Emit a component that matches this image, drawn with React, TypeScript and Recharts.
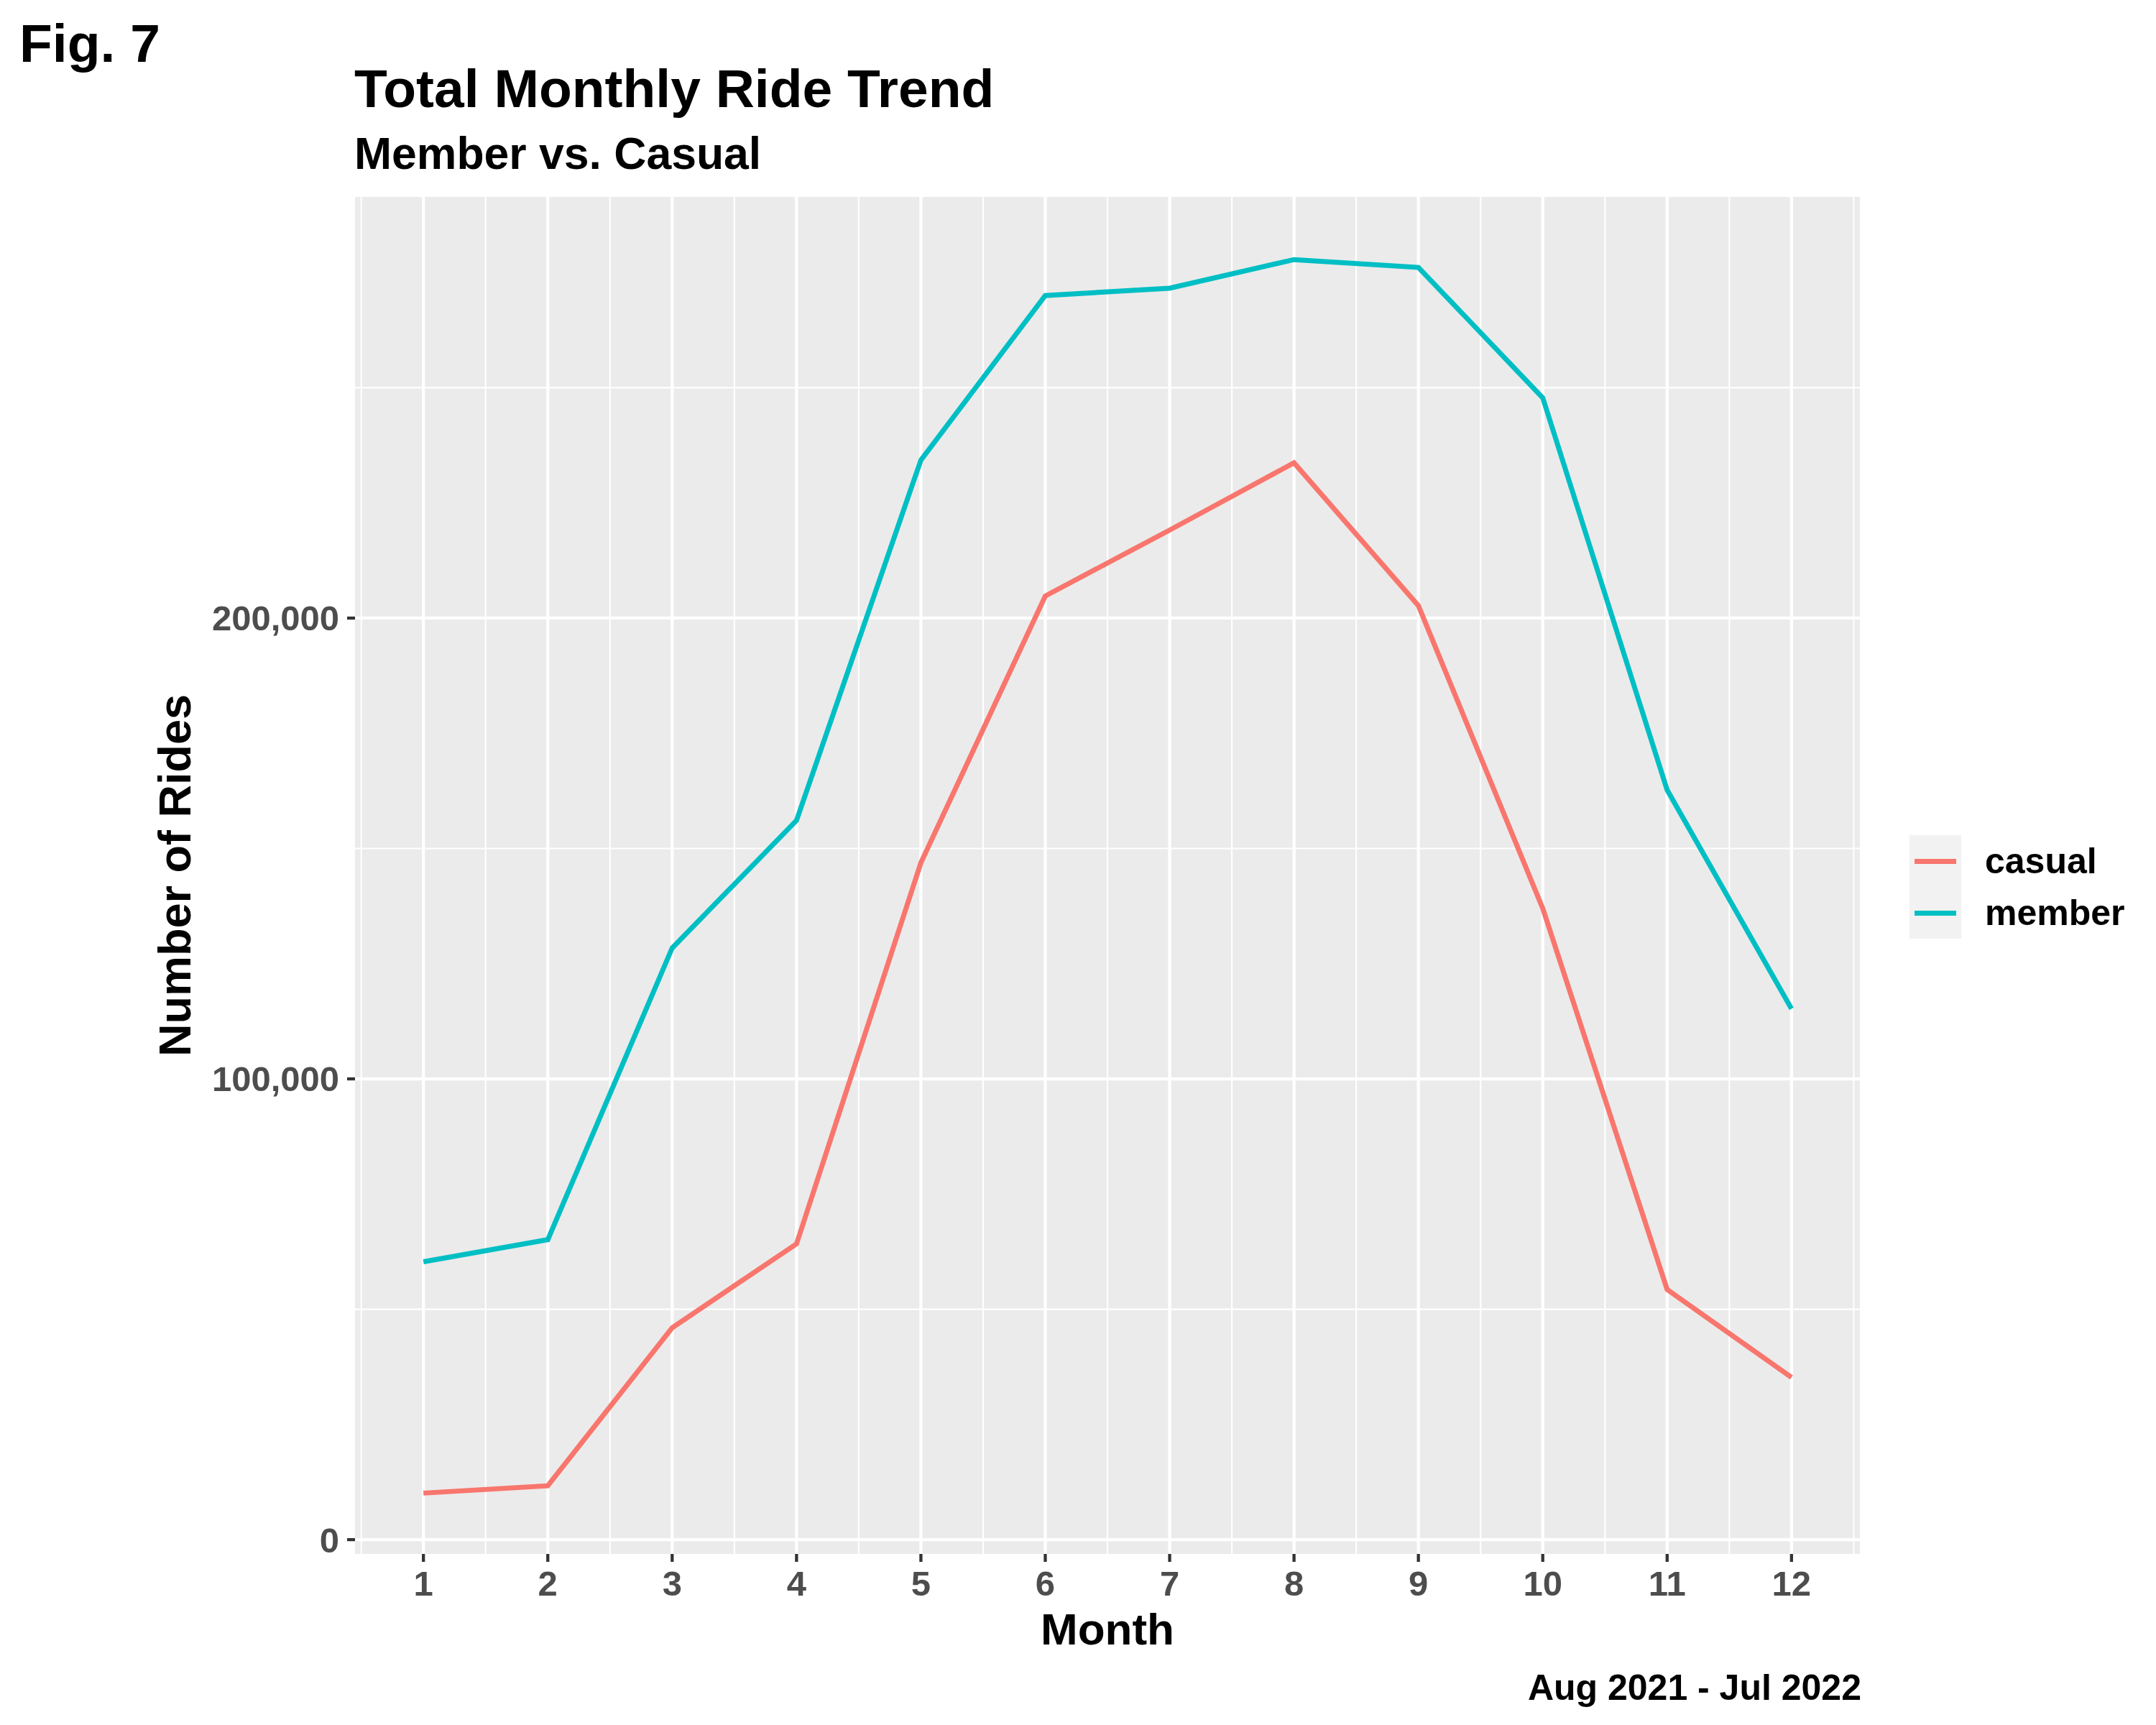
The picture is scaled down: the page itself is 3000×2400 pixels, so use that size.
import React from 'react';
import { LineChart, Line, XAxis, YAxis, CartesianGrid, Legend } from 'recharts';

const months = [1, 2, 3, 4, 5, 6, 7, 8, 9, 10, 11, 12];
const casualRides = [10100, 11700, 46000, 64200, 146900, 204800, 219100, 233700, 202700, 137000, 54300, 35200];
const memberRides = [60300, 65100, 128400, 156100, 234300, 270000, 271600, 277800, 276100, 247800, 162700, 115200];

const yTicks = [0, 100000, 200000];
const yMinor = [50000, 150000, 250000];
const xMinor = [0.5, 1.5, 2.5, 3.5, 4.5, 5.5, 6.5, 7.5, 8.5, 9.5, 10.5, 11.5, 12.5];

const FONT = '"Liberation Sans", Arial, Helvetica, sans-serif';

const data = months.map((m, i) => ({ month: m, casual: casualRides[i], member: memberRides[i] }));

const fmt = (v: number) => v.toLocaleString('en-US');

function LegendBox(props: any) {
  const items = props.payload || [];
  return (
    <div style={{ display: 'flex', fontFamily: FONT }}>
      <div style={{ background: '#F2F2F2', width: 72 }}>
        {items.map((it: any) => (
          <div key={it.value} style={{ height: 72, position: 'relative' }}>
            <div style={{ position: 'absolute', left: 7, right: 7, top: 33, height: 7, background: it.color }} />
          </div>
        ))}
      </div>
      <div style={{ marginLeft: 33 }}>
        {items.map((it: any) => (
          <div key={it.value} style={{ height: 72, lineHeight: '72px', fontSize: 50, fontWeight: 'bold', color: '#000' }}>
            {it.value}
          </div>
        ))}
      </div>
    </div>
  );
}

export default function App() {
  const tickStyle = { fill: '#4D4D4D', fontSize: 49, fontWeight: 'bold', fontFamily: FONT };
  return (
    <div style={{ position: 'absolute', left: 0, top: 0, width: 3000, height: 2400, background: '#fff' }}>
      <LineChart width={3000} height={2400} data={data} margin={{ top: 274, right: 412, bottom: 118, left: 0 }}>
        <CartesianGrid fill="#EBEBEB" stroke="#FFFFFF" strokeWidth={2.1}
          horizontalValues={yMinor} verticalValues={xMinor} />
        <CartesianGrid stroke="#FFFFFF" strokeWidth={4.3}
          horizontalValues={yTicks} verticalValues={months} />
        <XAxis dataKey="month" type="number" domain={[0.45, 12.55]} ticks={months} allowDataOverflow
          axisLine={false} tickLine={{ stroke: '#333333', strokeWidth: 4.3 }} tickSize={11} tickMargin={12}
          height={120} tick={tickStyle} interval={0} />
        <YAxis type="number" domain={[-3100, 291400]} ticks={yTicks} allowDataOverflow
          axisLine={false} tickLine={{ stroke: '#333333', strokeWidth: 4.3 }} tickSize={11} tickMargin={11}
          width={494} tick={tickStyle} tickFormatter={fmt} interval={0} />
        <Legend layout="vertical" align="center" verticalAlign="middle" content={<LegendBox />}
          wrapperStyle={{ left: 2657, top: 1162, width: 343, height: 144 }} />
        <Line type="linear" dataKey="casual" name="casual" stroke="#F8766D" strokeWidth={7} dot={false}
          activeDot={false} isAnimationActive={false} />
        <Line type="linear" dataKey="member" name="member" stroke="#00BFC4" strokeWidth={7} dot={false}
          activeDot={false} isAnimationActive={false} />
      </LineChart>
      <svg width={3000} height={2400} style={{ position: 'absolute', left: 0, top: 0, pointerEvents: 'none' }}
        fontFamily={FONT} fontWeight="bold">
        <text x={27} y={86} fontSize={75} fill="#000">Fig. 7</text>
        <text x={493} y={149} fontSize={75} fill="#000">Total Monthly Ride Trend</text>
        <text x={493} y={235} fontSize={62.5} fill="#000">Member vs. Casual</text>
        <text x={1541} y={2288} fontSize={62} fill="#000" textAnchor="middle">Month</text>
        <text x={2590} y={2365} fontSize={50} fill="#000" textAnchor="end">Aug 2021 - Jul 2022</text>
        <text x={265} y={1218} fontSize={63} fill="#000" textAnchor="middle" transform="rotate(-90 265 1218)">
          Number of Rides
        </text>
      </svg>
    </div>
  );
}
